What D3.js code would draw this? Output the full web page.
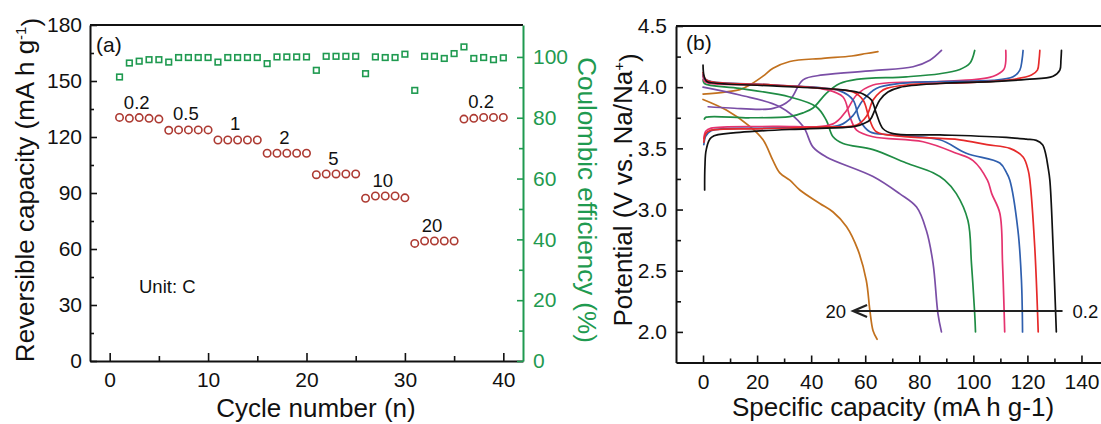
<!DOCTYPE html>
<html>
<head>
<meta charset="utf-8">
<script src="https://cdn.jsdelivr.net/npm/d3@7"></script>
<style>
  html, body { margin: 0; padding: 0; background: #fff; overflow: hidden; }
  svg { display: block; overflow: hidden; }
  text { font-family: "Liberation Sans", Arial, sans-serif; }
</style>
</head>
<body>
<svg id="chart" width="1101" height="424"></svg>
<script>
// ---------- (a) rate capability ----------
const cycles = [1,2,3,4,5,6,7,8,9,10,11,12,13,14,15,16,17,18,19,20,
                21,22,23,24,25,26,27,28,29,30,31,32,33,34,35,36,37,38,39,40];
const capacity = [130.5,130.0,130.4,130.0,129.6, 123.6,123.8,123.8,123.8,123.8,
                  118.4,118.4,118.4,118.4,118.4, 111.3,111.3,111.3,111.3,111.3,
                  99.8,100.2,100.2,100.2,100.2, 87.2,88.4,88.4,88.4,87.4,
                  63.0,64.3,64.3,64.3,64.3, 129.6,130.0,130.5,130.5,130.5];
const efficiency = [93.4,98.0,98.6,99.1,99.1, 98.3,99.8,99.8,99.8,99.8,
                    98.3,99.8,99.8,99.8,99.8, 97.8,100.0,100.0,100.0,100.0,
                    95.6,100.2,100.2,100.2,100.2, 94.5,100.0,99.8,99.8,100.9,
                    89.0,100.2,100.2,99.5,101.1, 103.3,99.5,99.8,99.1,99.7];
const rateLabels = ["0.2","0.5","1","2","5","10","20","0.2"];
const capTicks = [0,30,60,90,120,150,180];
const ceTicks = [0,20,40,60,80,100];
const cycleTicks = [0,10,20,30,40];

// ---------- (b) charge / discharge profiles: [capacity, potential] ----------
const rates = ["0.2","0.5","1","2","5","10","20"];
const charge02 = [[0.6,3.16],[0.7,3.35],[1.2,3.49],[3.1,3.59],[13.6,3.63],[38.2,3.66],[55,3.675],[58,3.69],[61.7,3.73],[63.5,3.81],[65.4,3.895],[68.4,3.96],[72.8,3.999],[87.6,4.03],[107.3,4.045],[119.6,4.064],[129.5,4.09],[132,4.14],[132.4,4.22],[132.6,4.30]];
const discharge02 = [[0,4.18],[0.3,4.10],[1.2,4.05],[3.1,4.036],[25.9,4.01],[50.6,3.98],[57,3.96],[59.2,3.945],[62.3,3.895],[64.1,3.786],[66.6,3.66],[70.3,3.62],[87.6,3.61],[112.2,3.59],[119.6,3.575],[123.3,3.565],[125.6,3.53],[126.8,3.45],[127.6,3.35],[128.3,3.24],[129.5,2.70],[130.7,2.0]];
const charge05 = [[0.3,3.55],[1,3.62],[2.5,3.645],[20,3.66],[45,3.675],[56.8,3.69],[60.4,3.76],[62.9,3.895],[65.5,3.96],[67.9,3.99],[75.2,4.018],[100,4.04],[113.5,4.06],[121.5,4.10],[123.7,4.14],[124.3,4.22],[124.6,4.30]];
const discharge05 = [[0,4.12],[0.4,4.08],[2,4.05],[25.9,4.018],[50,3.98],[55.5,3.96],[59.2,3.895],[61.7,3.73],[64.1,3.636],[72.8,3.60],[95,3.57],[105,3.53],[113.5,3.50],[118.4,3.43],[120.3,3.32],[120.9,3.24],[122.7,2.70],[124,2.0]];
const charge1 = [[0.3,3.53],[1,3.60],[3,3.645],[25,3.665],[50.6,3.69],[55.5,3.77],[59.2,3.895],[64.1,3.99],[72.8,4.03],[99.9,4.05],[107.3,4.055],[114.7,4.085],[117.2,4.14],[118,4.22],[118.4,4.30]];
const discharge1 = [[0,4.10],[0.5,4.07],[3,4.045],[25.9,4.018],[50.6,3.97],[55.5,3.895],[58,3.73],[61.7,3.636],[69.1,3.61],[87.6,3.57],[97.4,3.46],[109.8,3.38],[112.3,3.30],[113.5,3.24],[116.5,2.83],[117.8,2.42],[118.2,2.0]];
const charge2 = [[0.3,3.58],[1,3.64],[3,3.665],[25.9,3.68],[48.1,3.70],[53.1,3.81],[56.8,3.936],[62.9,4.018],[87.6,4.045],[101.1,4.064],[106,4.08],[108.5,4.10],[111.4,4.15],[112,4.30]];
const discharge2 = [[0,4.09],[0.5,4.05],[3,4.03],[25.9,4.018],[45.6,3.98],[51.8,3.92],[54.3,3.76],[56.8,3.65],[62.9,3.595],[81.4,3.554],[93.7,3.46],[99.9,3.40],[105.2,3.24],[106.8,3.13],[109.8,2.97],[110.8,2.56],[111.6,2.0]];
const charge5 = [[0.5,3.74],[1.2,3.755],[17.3,3.75],[32.1,3.76],[37,3.79],[40.7,3.83],[45.6,3.95],[50.6,4.03],[56.8,4.064],[75.2,4.085],[87.6,4.11],[95,4.145],[98.7,4.195],[100.5,4.30]];
const discharge5 = [[0,4.06],[0.5,4.03],[13.6,3.99],[32.1,3.92],[41.9,3.84],[45.6,3.73],[48.1,3.595],[51.8,3.54],[62.9,3.49],[75.2,3.38],[85.1,3.30],[89.4,3.24],[93.7,3.13],[98,2.91],[99.3,2.56],[100.5,2.15],[100.8,2.0]];
const charge10 = [[1.9,3.84],[10,3.83],[25.9,3.827],[32.1,3.895],[37,4.06],[44.4,4.10],[62.9,4.135],[77.7,4.167],[83.9,4.22],[88.2,4.30]];
const discharge10 = [[0,4.0],[13.6,3.936],[28.4,3.84],[37,3.68],[40.7,3.51],[45.6,3.43],[62.9,3.27],[72.7,3.13],[79,3.02],[82.6,2.83],[85.1,2.56],[86.9,2.15],[88.2,2.0]];
const charge20 = [[0,3.944],[8,3.96],[13.6,3.98],[17.3,4.018],[22.2,4.09],[25.9,4.154],[32.1,4.21],[44.4,4.236],[55,4.255],[60.4,4.275],[64.7,4.29]];
const discharge20 = [[0,3.90],[8.6,3.813],[17.3,3.68],[22.2,3.57],[25.9,3.40],[28.4,3.30],[32.1,3.24],[35.8,3.16],[43.2,3.05],[48.1,2.98],[53.1,2.86],[57.3,2.67],[60.4,2.42],[61.7,2.18],[62.9,2.01],[64.4,1.94]];
const capTicksB = [0,20,40,60,80,100,120,140];
const potTicks = [2.0,2.5,3.0,3.5,4.0,4.5];
// rate-change arrow: from 0.2 C to 20 C, in capacity units at a fixed potential
const arrowFrom = 133, arrowTo = 55.5, arrowPotential = 2.17;

const profiles = [
  {rate: rates[0], color: "#111111", charge: charge02, discharge: discharge02},
  {rate: rates[1], color: "#e62a2a", charge: charge05, discharge: discharge05},
  {rate: rates[2], color: "#2f5fae", charge: charge1,  discharge: discharge1},
  {rate: rates[3], color: "#e5336f", charge: charge2,  discharge: discharge2},
  {rate: rates[4], color: "#1f8c44", charge: charge5,  discharge: discharge5},
  {rate: rates[5], color: "#7a4ea6", charge: charge10, discharge: discharge10},
  {rate: rates[6], color: "#c2711e", charge: charge20, discharge: discharge20}
];

const svg = d3.select("#chart");
const FS_TICK = 21, FS_TITLE = 26, FS_NOTE = 18.5, FS_PANEL = 21;
const GREEN = "#1f9a50", RED = "#ad3a32";

function styleAxis(g, color) {
  g.selectAll("path.domain").attr("stroke", color).attr("stroke-width", 2);
  g.selectAll(".tick line").attr("stroke", color).attr("stroke-width", 1.6);
  g.selectAll(".tick text").attr("fill", color).style("font-size", FS_TICK + "px")
    .style("font-family", '"Liberation Sans", Arial, sans-serif');
}
function minorAxis(axis, values, size) {
  return axis.tickValues(values).tickFormat("").tickSizeInner(size).tickSizeOuter(0);
}

// ===== panel (a) =====
const xA = d3.scaleLinear([-2, 42], [90, 523]);
const yA = d3.scaleLinear([0, 180], [361, 25]);
const yCE = d3.scaleLinear([0, 110.5], [361, 25]);
const gA = svg.append("g");

gA.append("line").attr("x1", xA.range()[0]).attr("x2", xA.range()[1])
  .attr("y1", yA.range()[1]).attr("y2", yA.range()[1])
  .attr("stroke", "#111").attr("stroke-width", 2);

gA.append("g").attr("transform", `translate(0,${yA.range()[0]})`)
  .call(d3.axisBottom(xA).tickValues(cycleTicks).tickSizeInner(-8).tickSizeOuter(0).tickPadding(11))
  .call(g => styleAxis(g, "#111"));
gA.append("g").attr("transform", `translate(0,${yA.range()[0]})`)
  .call(minorAxis(d3.axisBottom(xA), [5,15,25,35], -5))
  .call(g => styleAxis(g, "#111")).select("path.domain").remove();

gA.append("g").attr("transform", `translate(${xA.range()[0]},0)`)
  .call(d3.axisLeft(yA).tickValues(capTicks).tickSizeInner(-7).tickSizeOuter(0).tickPadding(8))
  .call(g => styleAxis(g, "#111"));
gA.append("g").attr("transform", `translate(${xA.range()[0]},0)`)
  .call(minorAxis(d3.axisLeft(yA), [15,45,75,105,135,165], -4))
  .call(g => styleAxis(g, "#111")).select("path.domain").remove();

gA.append("g").attr("transform", `translate(${xA.range()[1]},0)`)
  .call(d3.axisRight(yCE).tickValues(ceTicks).tickSizeInner(-6).tickSizeOuter(0).tickPadding(10))
  .call(g => styleAxis(g, GREEN));
gA.append("g").attr("transform", `translate(${xA.range()[1]},0)`)
  .call(minorAxis(d3.axisRight(yCE), [10,30,50,70,90], -4))
  .call(g => styleAxis(g, GREEN)).select("path.domain").remove();

// coulombic efficiency squares
const sq = 5.6;
gA.append("g").selectAll("rect").data(cycles).join("rect")
  .attr("x", (c) => xA(c) - sq / 2)
  .attr("y", (c, i) => yCE(efficiency[i]) - sq / 2)
  .attr("width", sq).attr("height", sq)
  .attr("fill", "none").attr("stroke", GREEN).attr("stroke-width", 1.6);

// capacity circles
gA.append("g").selectAll("circle").data(cycles).join("circle")
  .attr("cx", (c) => xA(c))
  .attr("cy", (c, i) => yA(capacity[i]))
  .attr("r", 3.7)
  .attr("fill", "none").attr("stroke", RED).attr("stroke-width", 1.6);

// C-rate labels above each block of five cycles
rateLabels.forEach((lab, k) => {
  const cs = cycles.slice(k * 5, k * 5 + 5);
  const vs = capacity.slice(k * 5, k * 5 + 5);
  gA.append("text")
    .attr("x", xA(d3.mean(cs)) - 2.5)
    .attr("y", yA(d3.mean(vs)) - 16)
    .attr("dy", "0.35em")
    .attr("text-anchor", "middle")
    .style("font-size", FS_NOTE + "px").attr("fill", "#111")
    .text(lab);
});

gA.append("text").attr("x", 139).attr("y", 293).style("font-size", FS_NOTE + "px").attr("fill", "#111").text("Unit: C");
gA.append("text").attr("x", 96).attr("y", 52).style("font-size", FS_PANEL + "px").attr("fill", "#111").text("(a)");

gA.append("text").attr("x", 316).attr("y", 417).attr("text-anchor", "middle")
  .style("font-size", FS_TITLE + "px").attr("fill", "#111").text("Cycle number (n)");

const ylabA = gA.append("text").attr("transform", "translate(34,190) rotate(-90)")
  .attr("text-anchor", "middle").style("font-size", FS_TITLE + "px").attr("fill", "#111");
ylabA.append("tspan").text("Reversible capacity (mA h g");
ylabA.append("tspan").attr("dy", "-0.55em").style("font-size", "15px").text("-1");
ylabA.append("tspan").attr("dy", "0.55em").text(")");

gA.append("text").attr("transform", "translate(578,200) rotate(90)")
  .attr("text-anchor", "middle").style("font-size", FS_TITLE + "px").attr("fill", GREEN)
  .text("Coulombic efficiency (%)");

// ===== panel (b) =====
const xB = d3.scaleLinear([-10, 150], [676, 1108.5]);
const yB = d3.scaleLinear([1.75, 4.5], [362.5, 26]);
const gB = svg.append("g");

gB.append("line").attr("x1", xB.range()[0]).attr("x2", xB.range()[1])
  .attr("y1", yB.range()[1]).attr("y2", yB.range()[1])
  .attr("stroke", "#111").attr("stroke-width", 2);

gB.append("g").attr("transform", `translate(0,${yB.range()[0]})`)
  .call(d3.axisBottom(xB).tickValues(capTicksB).tickSizeInner(-7).tickSizeOuter(0).tickPadding(12))
  .call(g => styleAxis(g, "#111"));
gB.append("g").attr("transform", `translate(0,${yB.range()[0]})`)
  .call(minorAxis(d3.axisBottom(xB), [10,30,50,70,90,110,130], -4))
  .call(g => styleAxis(g, "#111")).select("path.domain").remove();

gB.append("g").attr("transform", `translate(${xB.range()[0]},0)`)
  .call(d3.axisLeft(yB).tickValues(potTicks).tickFormat(d3.format(".1f")).tickSizeInner(-7).tickSizeOuter(0).tickPadding(9))
  .call(g => styleAxis(g, "#111"));
gB.append("g").attr("transform", `translate(${xB.range()[0]},0)`)
  .call(minorAxis(d3.axisLeft(yB), [2.25,2.75,3.25,3.75,4.25], -5))
  .call(g => styleAxis(g, "#111")).select("path.domain").remove();

const line = d3.line().x(d => xB(d[0])).y(d => yB(d[1])).curve(d3.curveCatmullRom.alpha(0.5));
const gCurves = gB.append("g");
profiles.slice().reverse().forEach(p => {
  [p.charge, p.discharge].forEach(seg => {
    gCurves.append("path").datum(seg).attr("d", line)
      .attr("fill", "none").attr("stroke", p.color).attr("stroke-width", 1.7)
      .attr("stroke-linejoin", "round").attr("stroke-linecap", "round");
  });
});

// arrow 0.2 -> 20
const ay = yB(arrowPotential);
gB.append("line").attr("x1", xB(arrowFrom)).attr("x2", xB(arrowTo))
  .attr("y1", ay).attr("y2", ay).attr("stroke", "#222").attr("stroke-width", 2);
gB.append("path")
  .attr("d", `M${xB(arrowTo) + 14},${ay - 6} L${xB(arrowTo)},${ay} L${xB(arrowTo) + 14},${ay + 6}`)
  .attr("fill", "none").attr("stroke", "#222").attr("stroke-width", 2.2);
gB.append("text").attr("x", xB(arrowTo) - 7).attr("y", ay).attr("dy", "0.35em")
  .attr("text-anchor", "end").style("font-size", FS_NOTE + "px").attr("fill", "#111").text(rates[6]);
gB.append("text").attr("x", xB(arrowFrom) + 10).attr("y", ay).attr("dy", "0.35em")
  .attr("text-anchor", "start").style("font-size", FS_NOTE + "px").attr("fill", "#111").text(rates[0]);

gB.append("text").attr("x", 686).attr("y", 50).style("font-size", FS_PANEL + "px").attr("fill", "#111").text("(b)");

gB.append("text").attr("x", 893).attr("y", 416).attr("text-anchor", "middle")
  .style("font-size", FS_TITLE + "px").attr("fill", "#111").text("Specific capacity (mA h g-1)");

const ylabB = gB.append("text").attr("transform", "translate(632,190) rotate(-90)")
  .attr("text-anchor", "middle").style("font-size", FS_TITLE + "px").attr("fill", "#111");
ylabB.append("tspan").text("Potential (V vs. Na/Na");
ylabB.append("tspan").attr("dy", "-0.55em").style("font-size", "15px").text("+");
ylabB.append("tspan").attr("dy", "0.55em").text(")");
</script>
</body>
</html>
